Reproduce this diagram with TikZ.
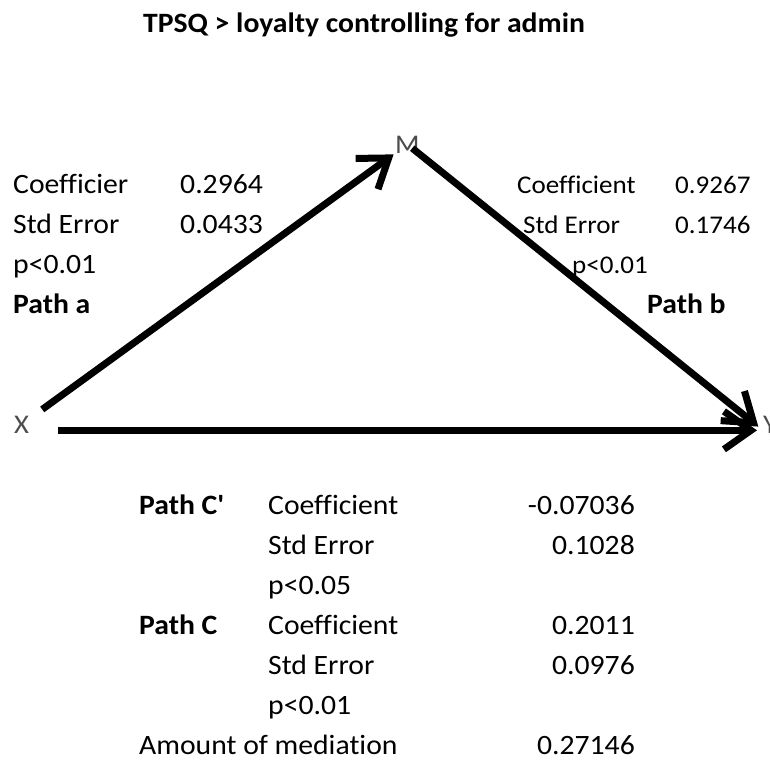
\documentclass[tikz,border=0pt]{standalone}
\usepackage{fontspec}
\setmainfont{Carlito}[FakeStretch=1.06,Ligatures=NoCommon]
\usetikzlibrary{arrows.meta}
\tikzset{
	txt/.style={anchor=base west,inner sep=0pt,font=\fontsize{28}{30}\selectfont},
	txtsmall/.style={anchor=base west,inner sep=0pt,font=\fontsize{25.5}{28}\selectfont},
	num/.style={anchor=base east,inner sep=0pt,font=\fontsize{28}{30}\selectfont},
	var/.style={anchor=base west,inner sep=0pt,text=black!70,font=\fontsize{27}{30}\selectfont},
	arr/.style={line width=7pt,-{Straight Barb[length=27pt,width=38pt]}}
}

\begin{document}
\begin{tikzpicture}[x=1pt,y=-1pt]
	\clip (0,0) rectangle (770,760);
	\node[anchor=base,inner sep=0pt,font=\bfseries\fontsize{28}{30}\selectfont] (title) at (364,33) {TPSQ > loyalty controlling for admin};

	\node[var] (X) at (14,433) {X};
	\node[var] (M) at (395,153) {M};
	\node[var] (Y) at (763,433) {Y};

	\draw[arr,shorten <=16pt,shorten >=2pt] (X) -- (M);
	\draw[arr,shorten <=-8pt,shorten >=6pt] (M) -- ([yshift=-6pt]Y.west);
	\draw[arr,shorten <=29pt,shorten >=6pt] ([yshift=-6pt]X.east) -- ([yshift=-6pt]Y.west);

	\node[txt] (coefa) at (13,193) {Coefficier};
	\node[txt] (vcoefa) at (180,193) {0.2964};
	\node[txt] (sea) at (13,233) {Std Error};
	\node[txt] (vsea) at (180,233) {0.0433};
	\node[txt] (pa) at (13,273) {p<0.01};
	\node[txt,font=\bfseries\fontsize{28}{30}\selectfont] (patha) at (13,313) {Path a};

	\node[txtsmall] (coefb) at (517,193) {Coefficient};
	\node[txtsmall] (vcoefb) at (675,193) {0.9267};
	\node[txtsmall] (seb) at (523,233) {Std Error};
	\node[txtsmall] (vseb) at (675,233) {0.1746};
	\node[txtsmall] (pb) at (572,273) {p<0.01};
	\node[txt,font=\bfseries\fontsize{28}{30}\selectfont] (pathb) at (647,313) {Path b};

	\node[txt,font=\bfseries\fontsize{28}{30}\selectfont] (pathcp) at (139,514) {Path C\textquotesingle};
	\node[txt] (coefcp) at (268,514) {Coefficient};
	\node[num] (vcoefcp) at (635,514) {-0.07036};
	\node[txt] (secp) at (268,554) {Std Error};
	\node[num] (vsecp) at (635,554) {0.1028};
	\node[txt] (pcp) at (268,594) {p<0.05};
	\node[txt,font=\bfseries\fontsize{28}{30}\selectfont] (pathc) at (139,634) {Path C};
	\node[txt] (coefc) at (268,634) {Coefficient};
	\node[num] (vcoefc) at (635,634) {0.2011};
	\node[txt] (sec) at (268,674) {Std Error};
	\node[num] (vsec) at (635,674) {0.0976};
	\node[txt] (pc) at (268,714) {p<0.01};
	\node[txt] (med) at (139,754) {Amount of mediation};
	\node[num] (vmed) at (635,754) {0.27146};
\end{tikzpicture}
\end{document}
